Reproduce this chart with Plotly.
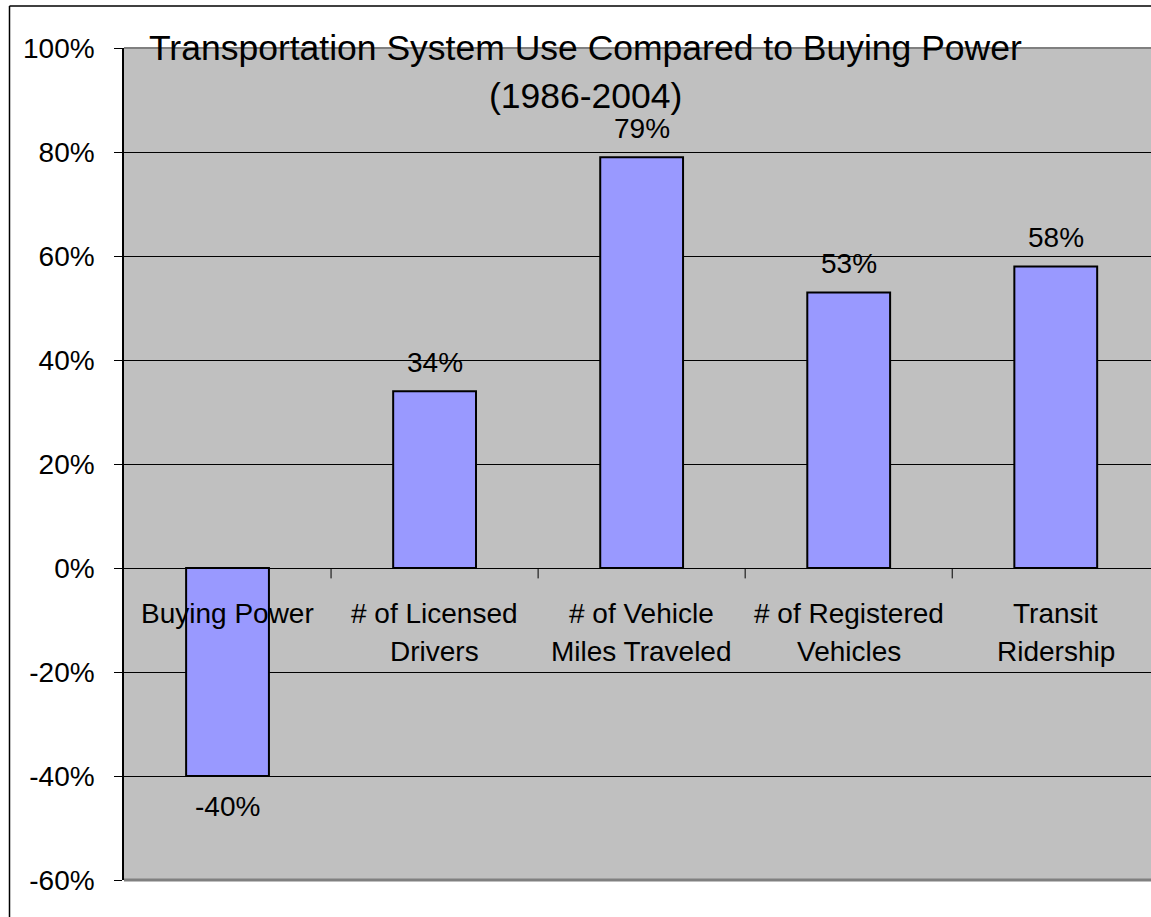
import plotly.graph_objects as go

categories_line1 = ["Buying Power", "# of Licensed", "# of Vehicle", "# of Registered", "Transit"]
categories_line2 = ["", "Drivers", "Miles Traveled", "Vehicles", "Ridership"]
values = [-40, 34, 79, 53, 58]
y_ticks = [-60, -40, -20, 0, 20, 40, 60, 80, 100]
y_tick_labels = ["-60%", "-40%", "-20%", "0%", "20%", "40%", "60%", "80%", "100%"]
title_line1 = "Transportation System Use Compared to Buying Power"
title_line2 = "(1986-2004)"

FONT = "Arial, Liberation Sans, sans-serif"
x = list(range(len(values)))

fig = go.Figure()
fig.add_trace(go.Bar(
    x=x, y=values, width=0.4,
    marker=dict(color="#9999FF", line=dict(color="black", width=2)),
    hoverinfo="skip",
))

annotations = []
for i, v in enumerate(values):
    annotations.append(dict(
        x=i, y=v, xref="x", yref="y", text=f"{v}%", showarrow=False,
        font=dict(family=FONT, size=28, color="black"),
        yanchor="middle", yshift=(29 if v >= 0 else -30),
    ))
    annotations.append(dict(
        x=i, y=-8.8, xref="x", yref="y", text=categories_line1[i], showarrow=False,
        font=dict(family=FONT, size=28, color="black"), yanchor="middle",
    ))
    if categories_line2[i]:
        annotations.append(dict(
            x=i, y=-16.0, xref="x", yref="y", text=categories_line2[i], showarrow=False,
            font=dict(family=FONT, size=28, color="black"), yanchor="middle",
        ))

annotations.append(dict(
    x=0.449, y=1.0, xref="paper", yref="paper", text=title_line1, showarrow=False,
    font=dict(family=FONT, size=35.5, color="black"), yanchor="middle", xanchor="center",
))
annotations.append(dict(
    x=0.449, y=0.9425, xref="paper", yref="paper", text=title_line2, showarrow=False,
    font=dict(family=FONT, size=35.5, color="black"), yanchor="middle", xanchor="center",
))

shapes = []
# category boundary tick marks below the zero line
for b in [0.5, 1.5, 2.5, 3.5]:
    shapes.append(dict(type="line", xref="x", yref="y", x0=b, x1=b, y0=0, y1=-2,
                       line=dict(color="black", width=1)))
# plot area top / bottom border
shapes.append(dict(type="line", xref="paper", yref="paper", x0=0, x1=1, y0=1, y1=1,
                   line=dict(color="#808080", width=2)))
shapes.append(dict(type="line", xref="paper", yref="paper", x0=0, x1=1, y0=0, y1=0,
                   line=dict(color="#808080", width=3)))
# outer chart border (left and top edges)
shapes.append(dict(type="line", xref="paper", yref="paper",
                   x0=-114.5 / 1027, x1=-114.5 / 1027, y0=-0.1, y1=1 + 42 / 832,
                   line=dict(color="black", width=1.5)))
shapes.append(dict(type="line", xref="paper", yref="paper",
                   x0=-114.5 / 1027, x1=1.1, y0=1 + 42 / 832, y1=1 + 42 / 832,
                   line=dict(color="black", width=1.5)))

fig.update_layout(
    width=1151, height=917,
    margin=dict(l=124, r=0, t=48, b=37),
    paper_bgcolor="white",
    plot_bgcolor="#C0C0C0",
    showlegend=False,
    bargap=0.6,
    annotations=annotations,
    shapes=shapes,
    xaxis=dict(range=[-0.5, 4.46], showticklabels=False, showgrid=False,
               zeroline=False, showline=False, ticks="", fixedrange=True),
    yaxis=dict(range=[-60, 100], tickvals=y_ticks, ticktext=y_tick_labels,
               showgrid=True, gridcolor="black", gridwidth=1,
               zeroline=True, zerolinecolor="black", zerolinewidth=1,
               showline=True, linecolor="black", linewidth=1.5,
               ticks="outside", ticklen=8, tickcolor="black",
               ticklabelstandoff=14,
               tickfont=dict(family=FONT, size=28, color="black"), fixedrange=True),
)

fig.write_html("out.html", config={"displayModeBar": False},
               post_script="document.body.style.margin='0';document.body.style.overflow='hidden';")
